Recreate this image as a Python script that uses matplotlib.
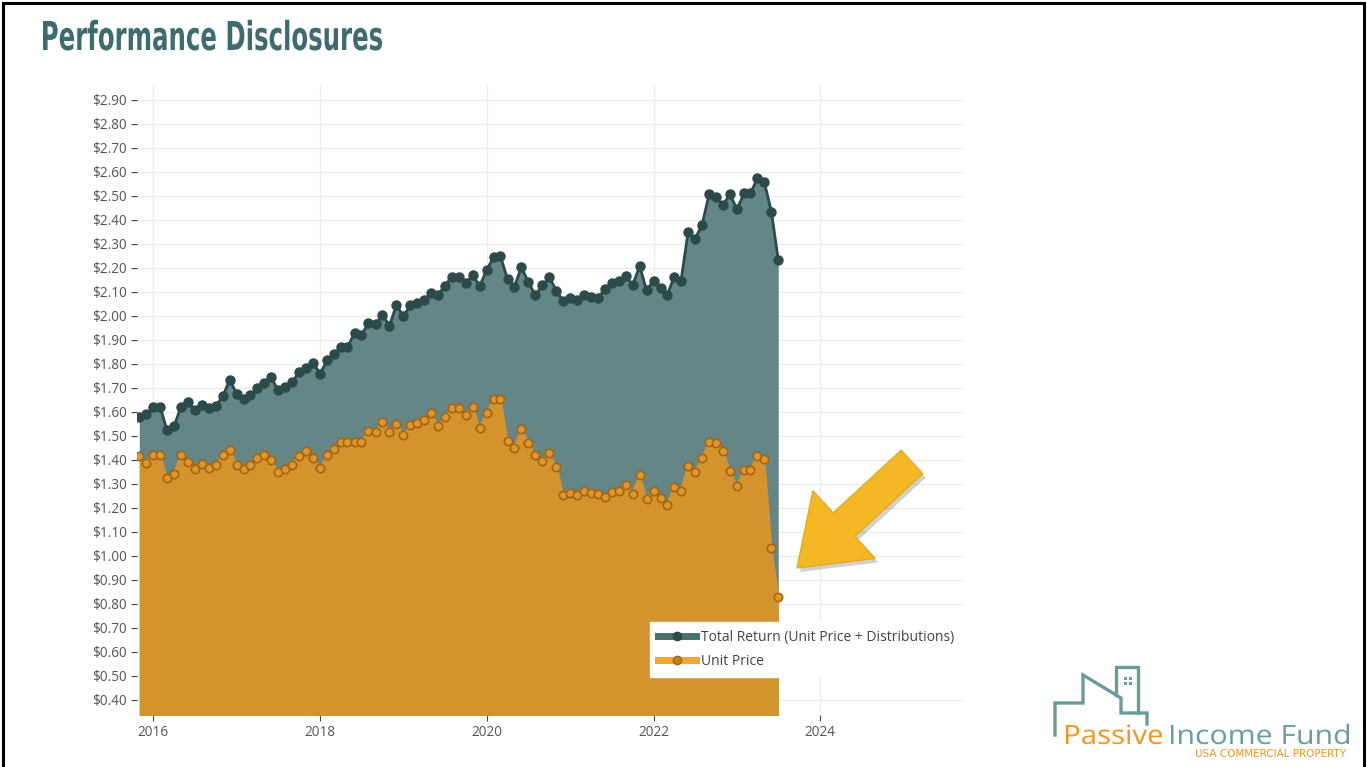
import numpy as np
import pandas as pd
import matplotlib
matplotlib.use("Agg")
import matplotlib.pyplot as plt
from matplotlib.lines import Line2D
from matplotlib.patches import Polygon, Rectangle, PathPatch
from matplotlib.textpath import TextPath
from matplotlib.font_manager import FontProperties
from matplotlib.transforms import Affine2D

# monthly values, Nov 2015 .. Jul 2023
dates = pd.date_range("2015-11-01", periods=93, freq="MS")

total_return = [
    1.58, 1.59,
    1.62, 1.62, 1.525, 1.54, 1.62, 1.64, 1.61, 1.63, 1.615, 1.625, 1.665, 1.735,
    1.675, 1.655, 1.67, 1.70, 1.72, 1.745, 1.69, 1.705, 1.725, 1.765, 1.785, 1.805,
    1.76, 1.815, 1.84, 1.87, 1.87, 1.93, 1.92, 1.97, 1.965, 2.005, 1.96, 2.045,
    2.00, 2.045, 2.055, 2.065, 2.095, 2.087, 2.125, 2.164, 2.164, 2.136, 2.171, 2.125,
    2.192, 2.247, 2.25, 2.153, 2.122, 2.203, 2.142, 2.087, 2.128, 2.161, 2.106, 2.061,
    2.076, 2.067, 2.087, 2.078, 2.074, 2.111, 2.136, 2.147, 2.167, 2.129, 2.208, 2.108,
    2.147, 2.118, 2.086, 2.164, 2.147, 2.349, 2.321, 2.379, 2.507, 2.497, 2.462, 2.507,
    2.445, 2.511, 2.511, 2.574, 2.557, 2.435, 2.233,
]

unit_price = [
    1.417, 1.389,
    1.42, 1.42, 1.326, 1.342, 1.42, 1.392, 1.364, 1.383, 1.367, 1.378, 1.42, 1.442,
    1.379, 1.363, 1.378, 1.407, 1.422, 1.40, 1.349, 1.361, 1.381, 1.417, 1.437, 1.407,
    1.368, 1.42, 1.445, 1.475, 1.475, 1.475, 1.475, 1.521, 1.518, 1.558, 1.517, 1.55,
    1.504, 1.546, 1.553, 1.567, 1.597, 1.542, 1.578, 1.615, 1.615, 1.588, 1.622, 1.532,
    1.595, 1.653, 1.653, 1.48, 1.451, 1.53, 1.471, 1.419, 1.396, 1.428, 1.372, 1.254,
    1.261, 1.254, 1.271, 1.264, 1.257, 1.245, 1.265, 1.272, 1.296, 1.258, 1.337, 1.237,
    1.271, 1.243, 1.211, 1.289, 1.272, 1.375, 1.349, 1.407, 1.476, 1.472, 1.438, 1.353,
    1.292, 1.358, 1.358, 1.417, 1.403, 1.032, 0.831,
]

series_labels = ["Total Return (Unit Price + Distributions)", "Unit Price"]
y_ticks = np.round(np.arange(0.40, 2.901, 0.10), 2)
x_tick_years = [2016, 2018, 2020, 2022, 2024]

TEAL_FILL = "#648686"
TEAL_LINE = "#2c4a4a"
ORANGE_FILL = "#d5932d"
ORANGE_FACE = "#dc9630"
ORANGE_EDGE = "#a8640f"
GRID = "#ececec"
TICK_TXT = "#555555"

W, H = 1367, 767
fig = plt.figure(figsize=(W / 100, H / 100), dpi=100)
fig.patch.set_facecolor("white")


def px(x, y):
    """pixel (from top-left) -> figure fraction"""
    return x / W, 1 - y / H


def squeezed_text(s, x0, baseline, width, cap_h, color, family, weight="normal"):
    # draw text as a path stretched to a given width / cap height (condensed look)
    fp = FontProperties(family=family, weight=weight)
    tp = TextPath((0, 0), s, size=100, prop=fp)
    cap = TextPath((0, 0), "H", size=100, prop=fp).get_extents().y1
    ext = tp.get_extents()
    sx = width / ext.width
    sy = cap_h / cap
    tr = (Affine2D().translate(-ext.x0, 0).scale(sx / W, sy / H)
          .translate(x0 / W, 1 - baseline / H) + fig.transFigure)
    fig.add_artist(PathPatch(tp, transform=tr, facecolor=color, lw=0))


# plot area in pixels
left, right, top, bottom = 137, 965, 85, 715
ax = fig.add_axes([left / W, 1 - bottom / H, (right - left) / W, (bottom - top) / H])

ax.fill_between(dates, total_return, 0, color=TEAL_FILL, lw=0, zorder=2)
ax.plot(dates, total_return, color=TEAL_LINE, lw=2, marker="o", ms=6.5,
        mfc=TEAL_LINE, mec=TEAL_LINE, zorder=3)
ax.fill_between(dates, unit_price, 0, color=ORANGE_FILL, lw=0, zorder=4)
ax.plot(dates, unit_price, color=ORANGE_FILL, lw=1.5, marker="o", ms=6,
        mfc=ORANGE_FACE, mec=ORANGE_EDGE, mew=1.2, zorder=5)

ax.set_ylim(0.3375, 2.9625)
ax.set_xlim(pd.Timestamp("2015-10-22"), pd.Timestamp("2025-09-26"))

ax.set_yticks(y_ticks)
ax.set_yticklabels([f"${v:.2f}" for v in y_ticks])
ax.set_xticks([pd.Timestamp(f"{y}-01-01") for y in x_tick_years])
ax.set_xticklabels([str(y) for y in x_tick_years])
ax.tick_params(axis="both", colors="#444444", labelcolor=TICK_TXT, labelsize=9.8,
               length=4, width=0.8, pad=3)
for lab in ax.get_xticklabels() + ax.get_yticklabels():
    lab.set_family(["Open Sans", "DejaVu Sans"])

ax.grid(True, color=GRID, lw=1, zorder=0)
ax.set_axisbelow(True)
for s in ax.spines.values():
    s.set_visible(False)

# legend
handles = [
    Line2D([], [], color="#47706f", lw=5, marker="o", ms=6, mfc=TEAL_LINE, mec=TEAL_LINE),
    Line2D([], [], color="#f0a535", lw=5, marker="o", ms=6, mfc="#c97c1a", mec=ORANGE_EDGE),
]
leg = fig.legend(handles, series_labels, loc="upper left",
                 bbox_to_anchor=px(650, 622), frameon=True, fancybox=False,
                 framealpha=1, edgecolor="white", facecolor="white",
                 handlelength=2.7, handletextpad=0.4, labelspacing=0.62,
                 borderpad=0.6, borderaxespad=0,
                 prop={"family": ["Open Sans", "DejaVu Sans"], "size": 10})
for t in leg.get_texts():
    t.set_color("#444444")
leg.set_zorder(10)

# title (condensed)
squeezed_text("Performance Disclosures", 43, 50, 339, 29, "#3d6b70", "DejaVu Sans",
              weight="bold")

# yellow call-out arrow
tip = np.array([797.0, 568.0])
tail = np.array([912.0, 462.0])
u = (tip - tail) / np.linalg.norm(tip - tail)
n = np.array([-u[1], u[0]])
head_len, head_half, shaft_half = 64, 46, 16
base = tip - u * head_len
pts = [tail + n * shaft_half, base + n * shaft_half, base + n * head_half, tip,
       base - n * head_half, base - n * shaft_half, tail - n * shaft_half]
shadow = [px(p[0] + 3, p[1] + 4) for p in pts]
fig.add_artist(Polygon(shadow, closed=True, transform=fig.transFigure,
                       facecolor="#000000", alpha=0.18, lw=0, zorder=20))
fig.add_artist(Polygon([px(*p) for p in pts], closed=True, transform=fig.transFigure,
                       facecolor="#f3b823", edgecolor="#eaab18", lw=1, zorder=21))

# logo
LOGO_TEAL = "#6b9c9c"
house = [(1055, 735), (1055, 703), (1083, 703), (1083, 675), (1121, 698),
         (1121, 713), (1147, 713), (1147, 724)]
fig.add_artist(Line2D(*zip(*[px(*p) for p in house]), transform=fig.transFigure,
                      color=LOGO_TEAL, lw=2.4, solid_joinstyle="miter"))
tower = [(1116, 695), (1116, 667), (1138, 667), (1138, 713)]
fig.add_artist(Line2D(*zip(*[px(*p) for p in tower]), transform=fig.transFigure,
                      color=LOGO_TEAL, lw=2.4, solid_joinstyle="miter"))
for wx in (1124, 1129):
    for wy in (677, 682):
        fig.add_artist(Rectangle(px(wx, wy + 3), 3 / W, 3 / H, transform=fig.transFigure,
                                 facecolor=LOGO_TEAL, lw=0))
squeezed_text("Passive", 1066, 744, 96, 19, "#f7941d", "Open Sans")
squeezed_text("Income Fund", 1171, 744, 178, 19, LOGO_TEAL, "Open Sans")
fig.text(*px(1346, 757), "USA COMMERCIAL PROPERTY", ha="right", va="baseline",
         fontsize=7.5, color="#f7941d", family=["DejaVu Sans"])

# screenshot frame
fig.add_artist(Rectangle(px(3, 790), (W - 6) / W, (787) / H, transform=fig.transFigure,
                         fill=False, edgecolor="black", lw=2.2, zorder=30))

fig.savefig("out.png", dpi=100)
